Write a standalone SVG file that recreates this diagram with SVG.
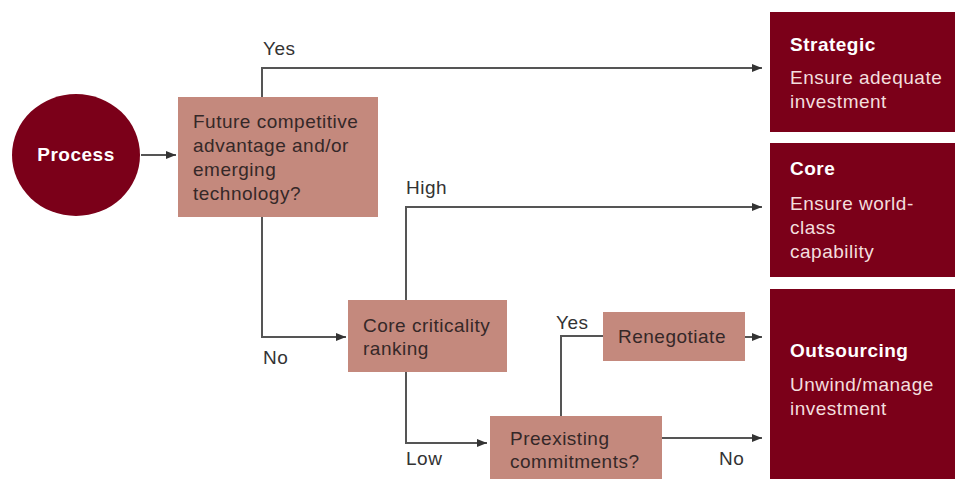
<svg xmlns="http://www.w3.org/2000/svg" width="955" height="479" viewBox="0 0 955 479">
<style>
.t,.lb,.dt,.dh{font-family:"Liberation Sans",Arial,sans-serif;font-size:19px;letter-spacing:0.5px}
.t{fill:#352828}
.lb{fill:#333}
.dt{fill:#f3dede}
.dh{font-weight:bold;fill:#fff}
.box{fill:#c4897d}
.dark{fill:#7b0019}
.c{fill:none;stroke:#555;stroke-width:2}
</style>
<defs>
<marker id="ah" viewBox="0 0 10 10" refX="10" refY="5" markerWidth="5" markerHeight="5" orient="auto" markerUnits="strokeWidth">
<path d="M0,1 L10,5 L0,9 z" fill="#333"/>
</marker>
</defs>
<g id="connectors">
<path class="c" d="M141,155 H176" marker-end="url(#ah)"/>
<path class="c" d="M262,97 V68 H762" marker-end="url(#ah)"/>
<path class="c" d="M262,217 V337 H346" marker-end="url(#ah)"/>
<path class="c" d="M406,300 V207 H762" marker-end="url(#ah)"/>
<path class="c" d="M406,372 V443 H487" marker-end="url(#ah)"/>
<path class="c" d="M561,416 V336 H603"/>
<path class="c" d="M745,337 H762" marker-end="url(#ah)"/>
<path class="c" d="M662,438 H762" marker-end="url(#ah)"/>
<text class="lb" x="263" y="55">Yes</text>
<text class="lb" x="263" y="364">No</text>
<text class="lb" x="406" y="194">High</text>
<text class="lb" x="406" y="465">Low</text>
<text class="lb" x="556" y="329">Yes</text>
<text class="lb" x="719" y="465">No</text>
</g>
<g id="process">
<ellipse class="dark" cx="76" cy="155" rx="64" ry="61"/>
<text class="dh" x="76" y="161" text-anchor="middle">Process</text>
</g>
<g id="future">
<rect class="box" x="178" y="97" width="200" height="120"/>
<text class="t" x="193" y="128">Future competitive</text>
<text class="t" x="193" y="152">advantage and/or</text>
<text class="t" x="193" y="176">emerging</text>
<text class="t" x="193" y="200">technology?</text>
</g>
<g id="core-criticality">
<rect class="box" x="348" y="300" width="159" height="72"/>
<text class="t" x="363" y="332">Core criticality</text>
<text class="t" x="363" y="355">ranking</text>
</g>
<g id="preexisting">
<rect class="box" x="490" y="416" width="172" height="70"/>
<text class="t" x="510" y="445">Preexisting</text>
<text class="t" x="510" y="468">commitments?</text>
</g>
<g id="renegotiate">
<rect class="box" x="603" y="312" width="142" height="49"/>
<text class="t" x="618" y="343">Renegotiate</text>
</g>
<g id="strategic">
<rect class="dark" x="770" y="12" width="190" height="120"/>
<text class="dh" x="790" y="51">Strategic</text>
<text class="dt" x="790" y="84">Ensure adequate</text>
<text class="dt" x="790" y="108">investment</text>
</g>
<g id="core">
<rect class="dark" x="770" y="143" width="190" height="134"/>
<text class="dh" x="790" y="175">Core</text>
<text class="dt" x="790" y="210">Ensure world-</text>
<text class="dt" x="790" y="234">class</text>
<text class="dt" x="790" y="258">capability</text>
</g>
<g id="outsourcing">
<rect class="dark" x="770" y="289" width="190" height="200"/>
<text class="dh" x="790" y="357">Outsourcing</text>
<text class="dt" x="790" y="391">Unwind/manage</text>
<text class="dt" x="790" y="415">investment</text>
</g>
</svg>
